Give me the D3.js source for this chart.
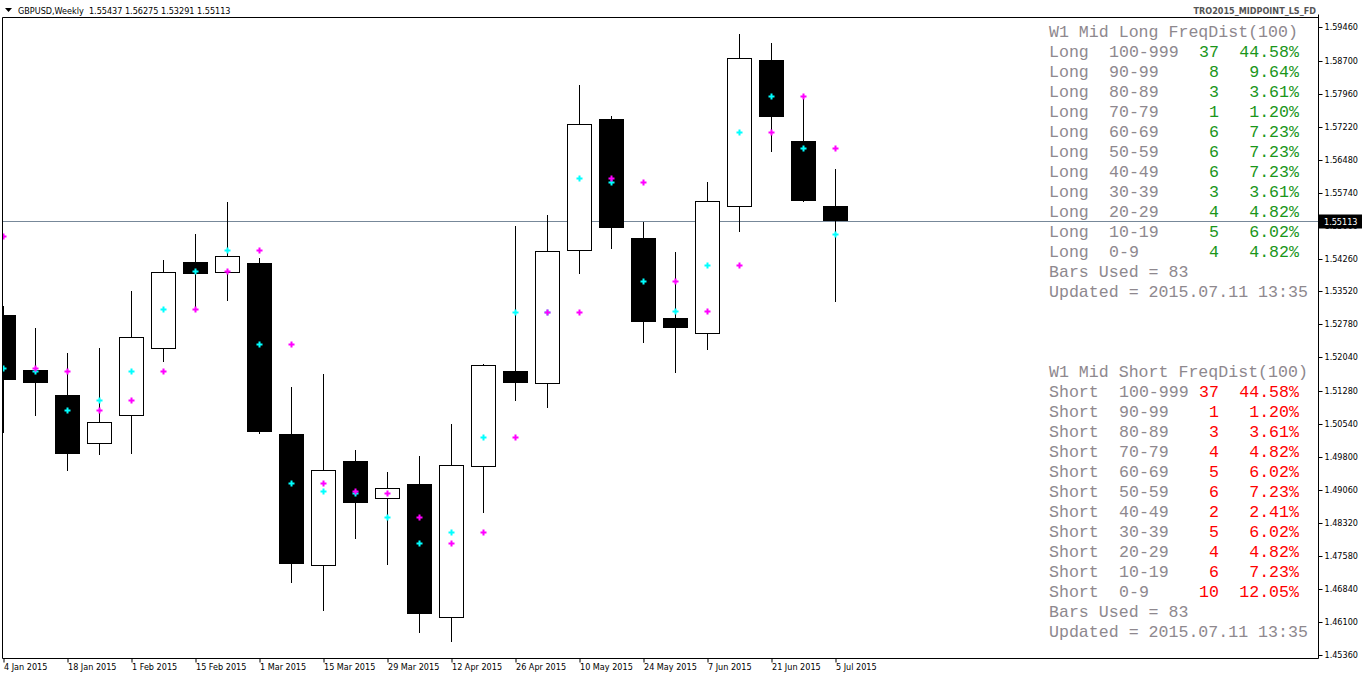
<!DOCTYPE html>
<html><head><meta charset="utf-8">
<script src="https://cdn.jsdelivr.net/npm/d3@7"></script>
<style>
body{margin:0;background:#fff;overflow:hidden}
svg{display:block}
.ax text{font-family:"DejaVu Sans Condensed","DejaVu Sans",sans-serif;font-size:9px;fill:#000}
.mono{font-family:"Liberation Mono","DejaVu Sans Mono",monospace;font-size:16.6px}
</style>
</head><body>
<svg id="c" width="1362" height="675"></svg>
<script>
// ---------- data ----------
const weeks = ["2015-01-04","2015-01-11","2015-01-18","2015-01-25","2015-02-01","2015-02-08","2015-02-15","2015-02-22","2015-03-01","2015-03-08","2015-03-15","2015-03-22","2015-03-29","2015-04-05","2015-04-12","2015-04-19","2015-04-26","2015-05-03","2015-05-10","2015-05-17","2015-05-24","2015-05-31","2015-06-07","2015-06-14","2015-06-21","2015-06-28","2015-07-05"];
const openVals  = [1.52992,1.51757,1.51195,1.50088,1.50717,1.52222,1.54176,1.53929,1.54153,1.50320,1.47348,1.49713,1.48853,1.49197,1.46180,1.49572,1.51734,1.51436,1.54423,1.57394,1.54721,1.52925,1.52565,1.55424,1.58719,1.56900,1.55437];
const highVals  = [1.53194,1.52693,1.52132,1.52251,1.53524,1.54221,1.54804,1.55530,1.54272,1.51375,1.51667,1.49960,1.49466,1.49826,1.50544,1.51892,1.54991,1.55238,1.58157,1.57461,1.55081,1.54407,1.55979,1.59303,1.59101,1.57933,1.56275];
const lowVals   = [1.50342,1.50731,1.49495,1.49855,1.49877,1.51943,1.53120,1.53313,1.50313,1.46980,1.46351,1.47968,1.47384,1.45857,1.45655,1.48552,1.51067,1.50897,1.53920,1.54468,1.52357,1.51696,1.52206,1.54863,1.56659,1.55537,1.53291];
const closeVals = [1.51532,1.51472,1.49877,1.50582,1.52491,1.53951,1.53920,1.54310,1.50371,1.47407,1.49511,1.48777,1.49100,1.46284,1.49617,1.51869,1.51472,1.54429,1.57275,1.54953,1.52842,1.52707,1.55546,1.58757,1.57446,1.55559,1.55113];
const midVals   = [1.51795,1.51741,1.50852,1.51076,1.51728,1.53120,1.53974,1.54445,1.52341,1.49212,1.49033,1.48988,1.48449,1.47865,1.48112,1.50246,1.53053,1.53066,1.56062,1.55972,1.53749,1.53075,1.54115,1.57095,1.57904,1.56736,1.54804];
const prevMidVals = [1.54760,1.51795,1.51741,1.50852,1.51076,1.51728,1.53120,1.53974,1.54445,1.52341,1.49212,1.49033,1.48988,1.48449,1.47865,1.48112,1.50246,1.53053,1.53066,1.56062,1.55972,1.53749,1.53075,1.54115,1.57095,1.57904,1.56736];
const lastPrice = 1.55113;
const yTicks = [1.5946,1.5870,1.5796,1.5722,1.5648,1.5574,1.5500,1.5426,1.5352,1.5278,1.5204,1.5128,1.5054,1.4980,1.4906,1.4832,1.4758,1.4684,1.4610,1.4536];
const xTickWeeks  = ["2015-01-04","2015-01-18","2015-02-01","2015-02-15","2015-03-01","2015-03-15","2015-03-29","2015-04-12","2015-04-26","2015-05-10","2015-05-24","2015-06-07","2015-06-21","2015-07-05"];
const xTickLabels = ["4 Jan 2015","18 Jan 2015","1 Feb 2015","15 Feb 2015","1 Mar 2015","15 Mar 2015","29 Mar 2015","12 Apr 2015","26 Apr 2015","10 May 2015","24 May 2015","7 Jun 2015","21 Jun 2015","5 Jul 2015"];

const ranges = ["100-999","90-99","80-89","70-79","60-69","50-59","40-49","30-39","20-29","10-19","0-9"];
const longCounts = [37,8,3,1,6,6,6,3,4,5,4];
const longPcts   = ["44.58%","9.64%","3.61%","1.20%","7.23%","7.23%","7.23%","3.61%","4.82%","6.02%","4.82%"];
const shortCounts = [37,1,3,4,5,6,2,5,4,6,10];
const shortPcts   = ["44.58%","1.20%","3.61%","4.82%","6.02%","7.23%","2.41%","6.02%","4.82%","7.23%","12.05%"];
const barsUsed = 83;
const updated = "2015.07.11 13:35";
const symbolHeader = "GBPUSD,Weekly  1.55437 1.56275 1.53291 1.55113";
const indicatorName = "TRO2015_MIDPOINT_LS_FD";

// ---------- chart ----------
const W = 1362, H = 675;
const plotL = 2.5, plotR = 1318.5, plotT = 17.5, plotB = 658.5;
const svg = d3.select("#c");
svg.append("rect").attr("width", W).attr("height", H).attr("fill", "#fff");

const x = d3.scalePoint().domain(weeks).range([3.5, 835.5]);
const y = d3.scaleLinear().domain([1.5946, 1.45401]).range([27, 653]);

svg.append("clipPath").attr("id", "clip").append("rect")
  .attr("x", 3).attr("y", 18).attr("width", 1315).attr("height", 640);

const data = weeks.map((w, i) => ({w, o: openVals[i], h: highVals[i], l: lowVals[i], c: closeVals[i], m: midVals[i], pm: prevMidVals[i]}));

const plot = svg.append("g").attr("clip-path", "url(#clip)");

// price line
plot.append("line")
  .attr("x1", plotL).attr("x2", plotR)
  .attr("y1", Math.round(y(lastPrice)) + 0.5).attr("y2", Math.round(y(lastPrice)) + 0.5)
  .attr("stroke", "#778899").attr("stroke-width", 1);

// wicks
plot.selectAll(".wick").data(data).join("line")
  .attr("x1", d => x(d.w)).attr("x2", d => x(d.w))
  .attr("y1", d => Math.round(y(d.h))).attr("y2", d => Math.round(y(d.l)))
  .attr("stroke", "#000").attr("stroke-width", 1);

// bodies
plot.selectAll(".body").data(data).join("rect")
  .attr("x", d => d.c >= d.o ? x(d.w) - 12 : x(d.w) - 12.5)
  .attr("width", d => d.c >= d.o ? 24 : 25)
  .attr("y", d => {
    const t = Math.round(y(Math.max(d.o, d.c)));
    return d.c >= d.o ? t + 0.5 : t;
  })
  .attr("height", d => {
    const t = Math.round(y(Math.max(d.o, d.c))), b = Math.round(y(Math.min(d.o, d.c)));
    return d.c >= d.o ? Math.max(b - t - 1, 1) : Math.max(b - t, 1);
  })
  .attr("fill", d => d.c >= d.o ? "#fff" : "#000")
  .attr("stroke", d => d.c >= d.o ? "#000" : "none")
  .attr("stroke-width", 1);

// indicator dots
const cross = d3.symbol().type(d3.symbolCross).size(20);
plot.selectAll(".mid").data(data).join("path")
  .attr("d", cross)
  .attr("transform", d => `translate(${x(d.w)},${Math.round(y(d.m)) + 0.5})`)
  .attr("fill", "#00ffff");
plot.selectAll(".pmid").data(data).join("path")
  .attr("d", cross)
  .attr("transform", d => `translate(${x(d.w)},${Math.round(y(d.pm)) + 0.5})`)
  .attr("fill", "#ff00ff");

// frame
svg.append("line").attr("x1", plotL).attr("x2", plotL).attr("y1", plotT).attr("y2", plotB).attr("stroke", "#000");
svg.append("line").attr("x1", plotL).attr("x2", plotR).attr("y1", plotT).attr("y2", plotT).attr("stroke", "#000");
svg.append("line").attr("x1", plotR).attr("x2", plotR).attr("y1", plotT - 3).attr("y2", plotB).attr("stroke", "#000");
svg.append("line").attr("x1", plotL).attr("x2", plotR).attr("y1", plotB).attr("y2", plotB).attr("stroke", "#000");

// y axis
const yAxis = d3.axisRight(y).tickValues(yTicks).tickFormat(d3.format(".5f")).tickSize(4).tickPadding(2);
const gy = svg.append("g").attr("class", "ax").attr("transform", `translate(${plotR},0)`).call(yAxis);
gy.select(".domain").remove();
gy.selectAll(".tick line").attr("stroke", "#000");
gy.selectAll(".tick").attr("transform", d => `translate(0,${Math.round(y(d)) + 0.5})`);

// last price label (covers the 1.55000 tick label, as in the original terminal)
const ly = Math.round(y(lastPrice)) + 0.5;
svg.append("rect").attr("x", 1319).attr("y", ly - 7).attr("width", 43).attr("height", 14).attr("fill", "#000");
svg.append("text").attr("class", "ax").attr("x", 1324).attr("y", ly + 3.5)
  .style("font-family", '"DejaVu Sans Condensed","DejaVu Sans",sans-serif').style("font-size", "9px")
  .attr("fill", "#fff").text(d3.format(".5f")(lastPrice));

// x axis
const labelOf = new Map(xTickWeeks.map((w, i) => [w, xTickLabels[i]]));
const xAxis = d3.axisBottom(x).tickValues(xTickWeeks).tickFormat(w => labelOf.get(w)).tickSize(4).tickPadding(2);
const gx = svg.append("g").attr("class", "ax").attr("transform", `translate(0,${plotB})`).call(xAxis);
gx.select(".domain").remove();
gx.selectAll(".tick line").attr("stroke", "#000");
gx.selectAll(".tick text").attr("text-anchor", "start").attr("x", 0).attr("dy", "0.71em").attr("y", 5);

// header
svg.append("path").attr("d", "M5,8 L12,8 L8.5,12 Z").attr("fill", "#000");
svg.append("text").attr("x", 18).attr("y", 14)
  .style("font-family", '"DejaVu Sans Condensed","DejaVu Sans",sans-serif').style("font-size", "9px")
  .attr("fill", "#000").attr("xml:space", "preserve").text(symbolHeader);
svg.append("text").attr("x", 1316).attr("y", 14).attr("text-anchor", "end")
  .style("font-family", '"DejaVu Sans Condensed","DejaVu Sans",sans-serif').style("font-size", "9px")
  .style("font-weight", "bold")
  .attr("fill", "#555").text(indicatorName);

// frequency distribution panels
const cw = 10, x0 = 1049, gray = "#8e888e", green = "#1a961a", red = "#ff0000";
function panel(top, side, counts, pcts, color) {
  const g = svg.append("g").attr("class", "mono");
  g.append("text").attr("x", x0).attr("y", top).attr("fill", gray)
    .attr("xml:space", "preserve").text(`W1 Mid ${side} FreqDist(100)`);
  const off = side.length + 2;
  ranges.forEach((r, i) => {
    const yy = top + 20 * (i + 1);
    g.append("text").attr("x", x0).attr("y", yy).attr("fill", gray).text(side);
    g.append("text").attr("x", x0 + off * cw).attr("y", yy).attr("fill", gray).text(r);
    g.append("text").attr("x", x0 + 17 * cw).attr("y", yy).attr("text-anchor", "end").attr("fill", color).text(counts[i]);
    g.append("text").attr("x", x0 + 25 * cw).attr("y", yy).attr("text-anchor", "end").attr("fill", color).text(pcts[i]);
  });
  g.append("text").attr("x", x0).attr("y", top + 20 * 12).attr("fill", gray)
    .attr("xml:space", "preserve").text(`Bars Used = ${barsUsed}`);
  g.append("text").attr("x", x0).attr("y", top + 20 * 13).attr("fill", gray)
    .attr("xml:space", "preserve").text(`Updated = ${updated}`);
}
panel(37, "Long", longCounts, longPcts, green);
panel(377, "Short", shortCounts, shortPcts, red);
</script>
</body></html>
